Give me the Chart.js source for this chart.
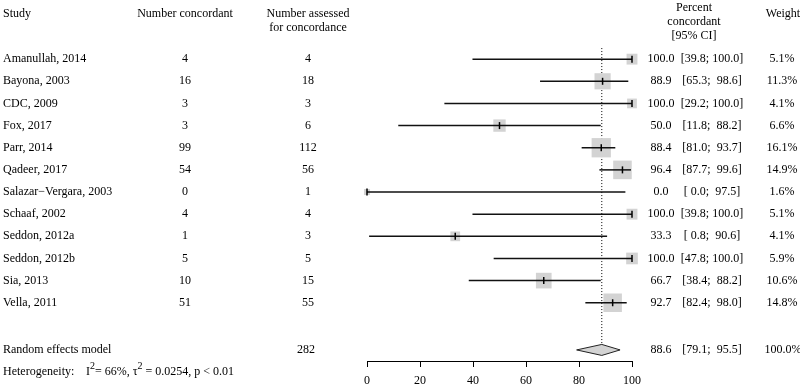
<!DOCTYPE html>
<html lang="en">
<head>
<meta charset="UTF-8">
<title>Forest plot - percent concordant</title>
<script src="https://cdn.jsdelivr.net/npm/chart.js"></script>
<style>
  html, body { margin: 0; padding: 0; background: #fff; }
  .chart-container { position: relative; width: 800px; height: 387px; }
</style>
</head>
<body>
<div class="chart-container"><canvas id="forestChart" width="800" height="387"></canvas></div>
<script>
// study level data
const studies = ['Amanullah, 2014', 'Bayona, 2003', 'CDC, 2009', 'Fox, 2017', 'Parr, 2014', 'Qadeer, 2017',
  'Salazar\u2212Vergara, 2003', 'Schaaf, 2002', 'Seddon, 2012a', 'Seddon, 2012b', 'Sia, 2013', 'Vella, 2011'];
const concordant = [4, 16, 3, 3, 99, 54, 0, 4, 1, 5, 10, 51];
const assessed = [4, 18, 3, 6, 112, 56, 1, 4, 3, 5, 15, 55];
const estimate = [100.0, 88.9, 100.0, 50.0, 88.4, 96.4, 0.0, 100.0, 33.3, 100.0, 66.7, 92.7];
const ciLow = [39.8, 65.3, 29.2, 11.8, 81.0, 87.7, 0.0, 39.8, 0.8, 47.8, 38.4, 82.4];
const ciHigh = [100.0, 98.6, 100.0, 88.2, 93.7, 99.6, 97.5, 100.0, 90.6, 100.0, 88.2, 98.0];
const weight = [5.1, 11.3, 4.1, 6.6, 16.1, 14.9, 1.6, 5.1, 4.1, 5.9, 10.6, 14.8];

// random effects model
const pooledLabel = 'Random effects model';
const pooledTotal = 282;
const pooledEstimate = 88.6;
const pooledLow = 79.1;
const pooledHigh = 95.5;
const pooledWeight = 100.0;
const heterogeneity = { i2: '66%', tau2: '0.0254', p: 'p < 0.01' };

const xTicks = [0, 20, 40, 60, 80, 100];

// row layout (y scale units, one unit per study row)
const pooledRow = 14.13;
const hetRow = 15.1;
const FONT = '12px "Liberation Serif", "Times New Roman", serif';

const fmt1 = v => v.toFixed(1);
const pad = (s, n) => ' '.repeat(Math.max(0, n - s.length)) + s;
function ciText(lo, hi) {
  return '[' + pad(fmt1(lo), 4) + '; ' + pad(fmt1(hi), 5) + ']';
}

const rows = studies.map((s, i) => i + 1);

const datasets = [];

// little vertical mark at each point estimate
datasets.push({
  label: 'estimate',
  data: estimate.map((v, i) => ({ x: v, y: rows[i] })),
  pointStyle: 'line',
  rotation: 90,
  pointRadius: 3.5,
  borderWidth: 1.5,
  borderColor: '#000',
  showLine: false,
  clip: false,
  order: 0
});

// confidence interval lines
studies.forEach((s, i) => {
  datasets.push({
    label: 'ci ' + s,
    data: [{ x: ciLow[i], y: rows[i] }, { x: ciHigh[i], y: rows[i] }],
    showLine: true,
    borderColor: '#111',
    borderWidth: 1.5,
    pointRadius: 0,
    clip: false,
    order: 1
  });
});

// weight boxes (area ~ weight)
datasets.push({
  label: 'weight',
  data: estimate.map((v, i) => ({ x: v, y: rows[i] })),
  pointStyle: 'rect',
  pointRadius: ctx => 3.4 * Math.sqrt(weight[ctx.dataIndex]),
  backgroundColor: '#d3d3d3',
  borderWidth: 0,
  showLine: false,
  clip: false,
  order: 2
});

// dotted reference line at the pooled estimate
datasets.push({
  label: 'pooled line',
  data: [{ x: pooledEstimate, y: 0.5 }, { x: pooledEstimate, y: pooledRow - 0.25 }],
  showLine: true,
  borderColor: '#000',
  borderWidth: 1,
  borderDash: [1, 2],
  pointRadius: 0,
  clip: false,
  order: 3
});

// diamond + all text columns
const forestText = {
  id: 'forestText',
  afterDatasetsDraw(chart) {
    const { ctx } = chart;
    const xs = chart.scales.x, ys = chart.scales.y;
    // diamond
    const yc = ys.getPixelForValue(pooledRow);
    const h = 5.5;
    ctx.save();
    ctx.beginPath();
    ctx.moveTo(xs.getPixelForValue(pooledLow), yc);
    ctx.lineTo(xs.getPixelForValue(pooledEstimate), yc - h);
    ctx.lineTo(xs.getPixelForValue(pooledHigh), yc);
    ctx.lineTo(xs.getPixelForValue(pooledEstimate), yc + h);
    ctx.closePath();
    ctx.fillStyle = '#d3d3d3';
    ctx.fill();
    ctx.strokeStyle = '#222';
    ctx.lineWidth = 1;
    ctx.stroke();
    ctx.restore();
  },
  afterDraw(chart) {
    const { ctx } = chart;
    const ys = chart.scales.y;
    ctx.save();
    ctx.font = FONT;
    ctx.fillStyle = '#000';
    ctx.textBaseline = 'middle';

    const put = (t, x, y, align) => { ctx.textAlign = align; ctx.fillText(t, x, y); };

    // headers
    put('Study', 3, 14, 'left');
    put('Number concordant', 185, 14, 'center');
    put('Number assessed', 308, 14, 'center');
    put('for concordance', 308, 28, 'center');
    put('Percent', 694, 8, 'center');
    put('concordant', 694, 22, 'center');
    put('[95% CI]', 694, 36, 'center');
    put('Weight', 783, 14, 'center');

    studies.forEach((s, i) => {
      const y = ys.getPixelForValue(rows[i]);
      put(s, 3, y, 'left');
      put(String(concordant[i]), 185, y, 'center');
      put(String(assessed[i]), 308, y, 'center');
      put(fmt1(estimate[i]), 661, y, 'center');
      put(ciText(ciLow[i], ciHigh[i]), 712, y, 'center');
      put(fmt1(weight[i]) + '%', 782, y, 'center');
    });

    const yp = ys.getPixelForValue(pooledRow);
    put(pooledLabel, 3, yp, 'left');
    put(String(pooledTotal), 306, yp, 'center');
    put(fmt1(pooledEstimate), 661, yp, 'center');
    put(ciText(pooledLow, pooledHigh), 712, yp, 'center');
    put(fmt1(pooledWeight) + '%', 783, yp, 'center');

    // heterogeneity line with superscripts
    const yh = ys.getPixelForValue(hetRow);
    put('Heterogeneity:', 3, yh, 'left');
    let x = 86;
    const seg = (t, sup) => {
      ctx.font = sup ? '10px "Liberation Serif", serif' : FONT;
      ctx.textAlign = 'left';
      ctx.fillText(t, x, sup ? yh - 5 : yh);
      x += ctx.measureText(t).width;
    };
    seg('I', false); seg('2', true);
    seg('= ' + heterogeneity.i2 + ', \u03c4', false); seg('2', true);
    seg(' = ' + heterogeneity.tau2 + ', ' + heterogeneity.p, false);
    ctx.restore();
  }
};

const chart = new Chart(document.getElementById('forestChart'), {
  type: 'scatter',
  data: { datasets },
  options: {
    responsive: false,
    animation: false,
    devicePixelRatio: 1,
    layout: { padding: { left: 367, right: 168, top: 37, bottom: 0 } },
    plugins: { legend: { display: false }, tooltip: { enabled: false } },
    scales: {
      x: {
        type: 'linear',
        position: 'bottom',
        min: 0,
        max: 100,
        afterBuildTicks: s => { s.ticks = xTicks.map(v => ({ value: v })); },
        afterFit: s => { s.height = 26; },
        ticks: {
          color: '#000',
          padding: 7,
          maxRotation: 0,
          autoSkip: false,
          font: { family: '"Liberation Serif", serif', size: 12 }
        },
        grid: { drawOnChartArea: false, drawTicks: true, tickLength: 6, color: '#000' },
        border: { display: true, color: '#000', width: 1 }
      },
      y: {
        type: 'linear',
        display: false,
        reverse: true,
        min: 0,
        max: 14.63
      }
    }
  },
  plugins: [forestText]
});
</script>
</body>
</html>
